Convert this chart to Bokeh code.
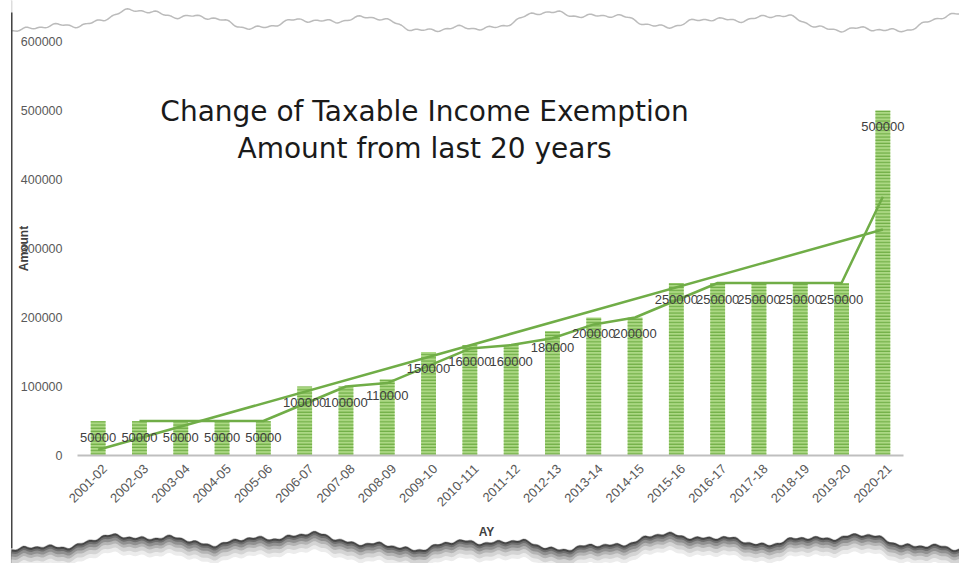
import numpy as np
from bokeh.plotting import figure
from bokeh.models import (FixedTicker, Label, PolyAnnotation, ColumnDataSource,
                          Range1d, BasicTickFormatter)
from bokeh.core.properties import value
from bokeh.embed import file_html
from bokeh.resources import INLINE

# ---------------- data ----------------
years = ["2001-02", "2002-03", "2003-04", "2004-05", "2005-06", "2006-07",
         "2007-08", "2008-09", "2009-10", "2010-111", "2011-12", "2012-13",
         "2013-14", "2014-15", "2015-16", "2016-17", "2017-18", "2018-19",
         "2019-20", "2020-21"]
amounts = [50000, 50000, 50000, 50000, 50000, 100000, 100000, 110000, 150000,
           160000, 160000, 180000, 200000, 200000, 250000, 250000, 250000,
           250000, 250000, 500000]
# two-period moving average line (starts at the second year)
moving_avg = [50000, 50000, 50000, 50000, 75000, 100000, 105000, 130000,
              155000, 160000, 170000, 190000, 200000, 225000, 250000, 250000,
              250000, 250000, 375000]
# linear trend line end values (first and last year)
trend_ends = [8400, 327600]
y_ticks = [0, 100000, 200000, 300000, 400000, 500000, 600000]

GREEN = "#70ad47"
TXT = "#404040"
FONT = "Liberation Sans"

W, H = 959, 563
# plot-area placement in pixels
L, R, T, B = 77, 903, 41, 455
n = len(years)
px_per_cat = (R - L) / n
y_max = 600000
px_per_val = (B - T) / y_max

x_range = Range1d(-0.5 - L / px_per_cat, n - 0.5 + (W - R) / px_per_cat)
y_range = Range1d(-(H - B) / px_per_val, y_max + T / px_per_val)

p = figure(width=W, height=H, x_range=x_range, y_range=y_range,
           output_backend="svg", toolbar_location=None,
           min_border=0, min_border_left=0, min_border_right=0,
           min_border_top=0, min_border_bottom=0)
p.outline_line_color = None
p.grid.visible = False
p.background_fill_color = "white"
p.border_fill_color = "white"

xs = list(range(n))
src = ColumnDataSource(dict(x=xs, y=amounts, lbl=[str(a) for a in amounts]))

p.vbar(x="x", top="y", width=0.36, source=src, fill_color="#acd884",
       line_color=None, hatch_pattern="horizontal_line", hatch_color="#6aaa3f",
       hatch_scale=3.2, hatch_weight=1.1)

p.line(x=xs[1:], y=moving_avg, line_color=GREEN, line_width=2.5)
p.line(x=[xs[0], xs[-1]], y=trend_ends, line_color=GREEN, line_width=2.5)

p.text(x="x", y="y", text="lbl", source=src, y_offset=16,
       text_align="center", text_baseline="middle", text_font=value(FONT),
       text_font_size="13px", text_color=TXT)

# axes (drawn at fixed data locations so the plot area can span the page)
tick_shift = 0.16
xticks = [i + tick_shift for i in xs]
xa = p.xaxis[0]
xa.fixed_location = 0
xa.bounds = (-0.5, n - 0.5)
xa.ticker = FixedTicker(ticks=xticks)
xa.major_label_overrides = {t: y for t, y in zip(xticks, years)}
xa.major_label_orientation = np.pi / 4
xa.major_label_text_font = FONT
xa.major_label_text_font_size = "13px"
xa.major_label_text_color = "#595959"
xa.major_tick_line_color = None
xa.minor_tick_line_color = None
xa.axis_line_color = "#bfbfbf"
xa.axis_line_width = 2
xa.major_label_standoff = 5

ya = p.yaxis[0]
ya.fixed_location = -0.5
ya.bounds = (0, y_max)
ya.ticker = FixedTicker(ticks=y_ticks)
ya.formatter = BasicTickFormatter(use_scientific=False)
ya.major_label_text_font = FONT
ya.major_label_text_font_size = "12.5px"
ya.major_label_text_color = "#595959"
ya.major_tick_line_color = None
ya.minor_tick_line_color = None
ya.axis_line_color = None
ya.major_label_standoff = 9

# screen helpers (screen units: from the left / bottom of the plot area)
def sx(ximg):
    return ximg

def sy(yimg):
    return H - yimg

for txt, yy in [("Change of Taxable Income Exemption", 111),
                ("Amount from last 20 years", 148)]:
    p.add_layout(Label(x=sx(424), y=sy(yy), x_units="screen", y_units="screen",
                       text=txt, text_align="center", text_baseline="middle",
                       text_font="DejaVu Sans", text_font_size="28px",
                       text_color="#1a1a1a"))

p.add_layout(Label(x=sx(23), y=sy(248), x_units="screen", y_units="screen",
                   text="Amount", angle=np.pi / 2, text_align="center",
                   text_baseline="middle", text_font=FONT,
                   text_font_style="bold", text_font_size="12px",
                   text_color=TXT))
p.add_layout(Label(x=sx(486), y=sy(531), x_units="screen", y_units="screen",
                   text="AY", text_align="center", text_baseline="middle",
                   text_font=FONT, text_font_style="bold",
                   text_font_size="12px", text_color=TXT))

# torn-paper decoration (purely ornamental edges)
ex = np.arange(11, 962, 2.0)
top = 21 + 11 * (0.55 * np.sin(ex / 33 + 0.3) + 0.35 * np.sin(ex / 71 + 2.2)
                 + 0.25 * np.sin(ex / 13 + 1.0) + 0.12 * np.sin(ex / 5.3)
                 + 0.08 * np.sin(ex / 2.3))
bot = 541 + 9 * (0.5 * np.sin(ex / 29 + 0.4) + 0.4 * np.sin(ex / 83 + 1.9)
                 + 0.25 * np.sin(ex / 11 + 1.3) + 0.12 * np.sin(ex / 4.7)
                 + 0.1 * np.sin(ex / 2.1))

p.add_layout(PolyAnnotation(
    xs=list(sx(np.r_[ex, 962, 11])), ys=list(sy(np.r_[top, -20, -20])),
    xs_units="screen", ys_units="screen", fill_color="white", fill_alpha=1,
    line_color="#1e1e1e", line_width=1.5))
p.add_layout(PolyAnnotation(
    xs=[sx(-2), sx(11), sx(11), sx(-2)], ys=[sy(-2), sy(-2), sy(570), sy(570)],
    xs_units="screen", ys_units="screen", fill_color="white", fill_alpha=1,
    line_color=None))
for off, col in [(0, "#4a4a4a"), (2, "#6e6e6e"), (4, "#909090"),
                 (7, "#b4b4b4"), (10, "#d4d4d4"), (14, "#ececec"),
                 (18, "white")]:
    p.add_layout(PolyAnnotation(
        xs=list(sx(np.r_[ex, 962, 11])), ys=list(sy(np.r_[bot + off, 600, 600])),
        xs_units="screen", ys_units="screen", fill_color=col, fill_alpha=1,
        line_color="#1e1e1e" if off == 0 else None, line_width=1.2))
p.add_layout(PolyAnnotation(
    xs=[sx(10.5), sx(12), sx(12), sx(10.5)], ys=[sy(12), sy(12), sy(548), sy(548)],
    xs_units="screen", ys_units="screen", fill_color="#444444", fill_alpha=1,
    line_color=None))

open("out.html", "w").write(file_html(p, INLINE))
